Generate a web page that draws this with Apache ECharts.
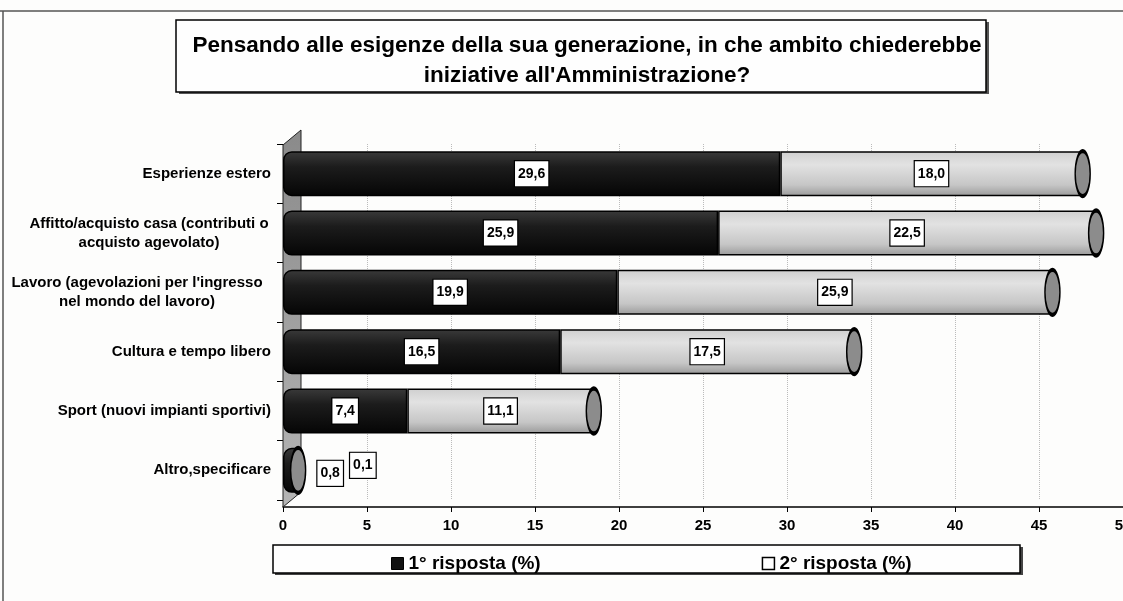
<!DOCTYPE html>
<html>
<head>
<meta charset="utf-8">
<script src="https://cdn.jsdelivr.net/npm/echarts@6/dist/echarts.min.js"></script>
<style>
  html, body { margin: 0; padding: 0; background: #fdfdfc; }
  #chart { width: 1123px; height: 601px; }
</style>
</head>
<body>
<div id="chart"></div>
<script>
// categorie e valori (%)
var categories = [
  "Esperienze estero",
  "Affitto/acquisto casa (contributi o\nacquisto agevolato)",
  "Lavoro (agevolazioni per l'ingresso\nnel mondo del lavoro)",
  "Cultura e tempo libero",
  "Sport (nuovi impianti sportivi)",
  "Altro,specificare"
];
var prima = [29.6, 25.9, 19.9, 16.5, 7.4, 0.8];
var seconda = [18.0, 22.5, 25.9, 17.5, 11.1, 0.1];
var xTicks = [0, 5, 10, 15, 20, 25, 30, 35, 40, 45, 50];

var FONT = "'Liberation Sans', Arial, sans-serif";
var chart = echarts.init(document.getElementById("chart"));

function fmt(v) {
  return v.toFixed(1).replace(".", ",");
}

var boxLabel = {
  show: true,
  position: "inside",
  formatter: function (p) { return fmt(p.value); },
  color: "#000",
  fontFamily: FONT,
  fontWeight: "bold",
  fontSize: 14,
  backgroundColor: "#fff",
  borderColor: "#000",
  borderWidth: 1.2,
  padding: [6, 3, 5, 3]
};

var last = categories.length - 1;
var primaData = prima.map(function (v, i) {
  if (i !== last) return v;
  return { value: v, label: { position: "right", distance: 21, offset: [0, 3] } };
});
var secondaData = seconda.map(function (v, i) {
  if (i !== last) return v;
  return { value: v, label: { position: "right", distance: 52, offset: [0, -5] } };
});
var totali = prima.map(function (v, i) { return [v + seconda[i], i]; });

var darkGrad = new echarts.graphic.LinearGradient(0, 0, 0, 1, [
  { offset: 0, color: "#3a3a3a" },
  { offset: 0.35, color: "#1c1c1c" },
  { offset: 1, color: "#050505" }
]);
var lightGrad = new echarts.graphic.LinearGradient(0, 0, 0, 1, [
  { offset: 0, color: "#cfcfcf" },
  { offset: 0.3, color: "#e2e2e2" },
  { offset: 0.75, color: "#c6c6c6" },
  { offset: 1, color: "#9a9a9a" }
]);

var option = {
  backgroundColor: "#fdfdfc",
  animation: false,
  title: {
    text: "Pensando alle esigenze della sua generazione, in che ambito chiederebbe\niniziative all'Amministrazione?",
    left: 582,
    top: 26,
    textAlign: "center",
    textStyle: { fontFamily: FONT, fontWeight: "bold", fontSize: 22.5, lineHeight: 30, color: "#000" }
  },
  legend: {
    left: 386,
    top: 549,
    itemGap: 221,
    itemWidth: 12,
    itemHeight: 12,
    icon: "rect",
    textStyle: { fontFamily: FONT, fontWeight: "bold", fontSize: 19, color: "#000" },
    data: [
      { name: "1° risposta (%)", itemStyle: { color: "#111", borderColor: "#000", borderWidth: 1 } },
      { name: "2° risposta (%)", itemStyle: { color: "#fff", borderColor: "#000", borderWidth: 1.5 } }
    ]
  },
  grid: { left: 283, right: 0, top: 144, bottom: 101, outerBoundsMode: "none", containLabel: false },
  xAxis: {
    type: "value",
    min: 0,
    max: 50,
    interval: 5,
    offset: 7,
    axisLine: { show: true, lineStyle: { color: "#000", width: 1.5 } },
    axisTick: { show: true, length: 5, lineStyle: { color: "#000" } },
    axisLabel: {
      color: "#000", fontFamily: FONT, fontWeight: "bold", fontSize: 15, margin: 11,
      formatter: function (v) { return xTicks.indexOf(v) >= 0 ? String(v) : ""; }
    },
    splitLine: { show: true, lineStyle: { color: "#bbb", type: "dotted", width: 1 } }
  },
  yAxis: {
    type: "category",
    inverse: true,
    data: categories,
    axisLine: { show: false },
    axisTick: { show: true, length: 6, lineStyle: { color: "#000" } },
    axisLabel: {
      color: "#000", fontFamily: FONT, fontWeight: "bold", fontSize: 15, margin: 12,
      lineHeight: 19,
      formatter: function (v) {
        var parts = v.split("\n");
        if (parts.length === 1) return v;
        var w = parts[0].indexOf("Lavoro") === 0 ? "w2" : "w1";
        return "{" + w + "|" + parts[0] + "}\n{" + w + "|" + parts[1] + "}";
      },
      rich: {
        w1: { width: 244, align: "center", fontFamily: FONT, fontWeight: "bold", fontSize: 15, lineHeight: 19, color: "#000" },
        w2: { width: 268, align: "center", fontFamily: FONT, fontWeight: "bold", fontSize: 15, lineHeight: 19, color: "#000" }
      }
    }
  },
  graphic: [
    // cornice della pagina
    { type: "line", shape: { x1: 0, y1: 11, x2: 1123, y2: 11 }, style: { stroke: "#555", lineWidth: 1.5 }, z: 0 },
    { type: "line", shape: { x1: 3, y1: 11, x2: 3, y2: 601 }, style: { stroke: "#555", lineWidth: 1.5 }, z: 0 },
    // box titolo
    { type: "rect", shape: { x: 179, y: 22, width: 810, height: 72 }, style: { fill: "#555" }, z: 0 },
    { type: "rect", shape: { x: 176, y: 20, width: 810, height: 72 }, style: { fill: "#fefefe", stroke: "#000", lineWidth: 1.5 }, z: 0 },
    // box legenda
    { type: "rect", shape: { x: 275, y: 547, width: 748, height: 28 }, style: { fill: "#444" }, z: 0 },
    { type: "rect", shape: { x: 273, y: 545, width: 747, height: 28 }, style: { fill: "#fefefe", stroke: "#000", lineWidth: 1.5 }, z: 0 },
    // parete 3D a sinistra
    {
      type: "polygon",
      shape: { points: [[283, 145], [301, 130], [301, 492], [283, 507]] },
      style: {
        fill: new echarts.graphic.LinearGradient(0, 0, 0, 1, [
          { offset: 0, color: "#8a8a8a" },
          { offset: 1, color: "#b5b5b5" }
        ]),
        stroke: "#222", lineWidth: 1
      },
      z: 1
    }
  ],
  series: [
    {
      name: "1° risposta (%)",
      type: "bar",
      stack: "tot",
      barWidth: 45,
      data: primaData,
      itemStyle: { color: darkGrad, borderColor: "#000", borderWidth: 1.5, borderRadius: [8, 0, 0, 8] },
      label: boxLabel,
      z: 3
    },
    {
      name: "2° risposta (%)",
      type: "bar",
      stack: "tot",
      barWidth: 45,
      data: secondaData,
      itemStyle: { color: lightGrad, borderColor: "#000", borderWidth: 1.5 },
      label: boxLabel,
      z: 3
    },
    {
      name: "tappo",
      type: "scatter",
      data: totali,
      symbol: "circle",
      symbolSize: [15, 45],
      itemStyle: { color: "#8c8c8c", borderColor: "#000", borderWidth: 2.5, opacity: 1 },
      silent: true,
      z: 4
    }
  ]
};

chart.setOption(option);
</script>
</body>
</html>
